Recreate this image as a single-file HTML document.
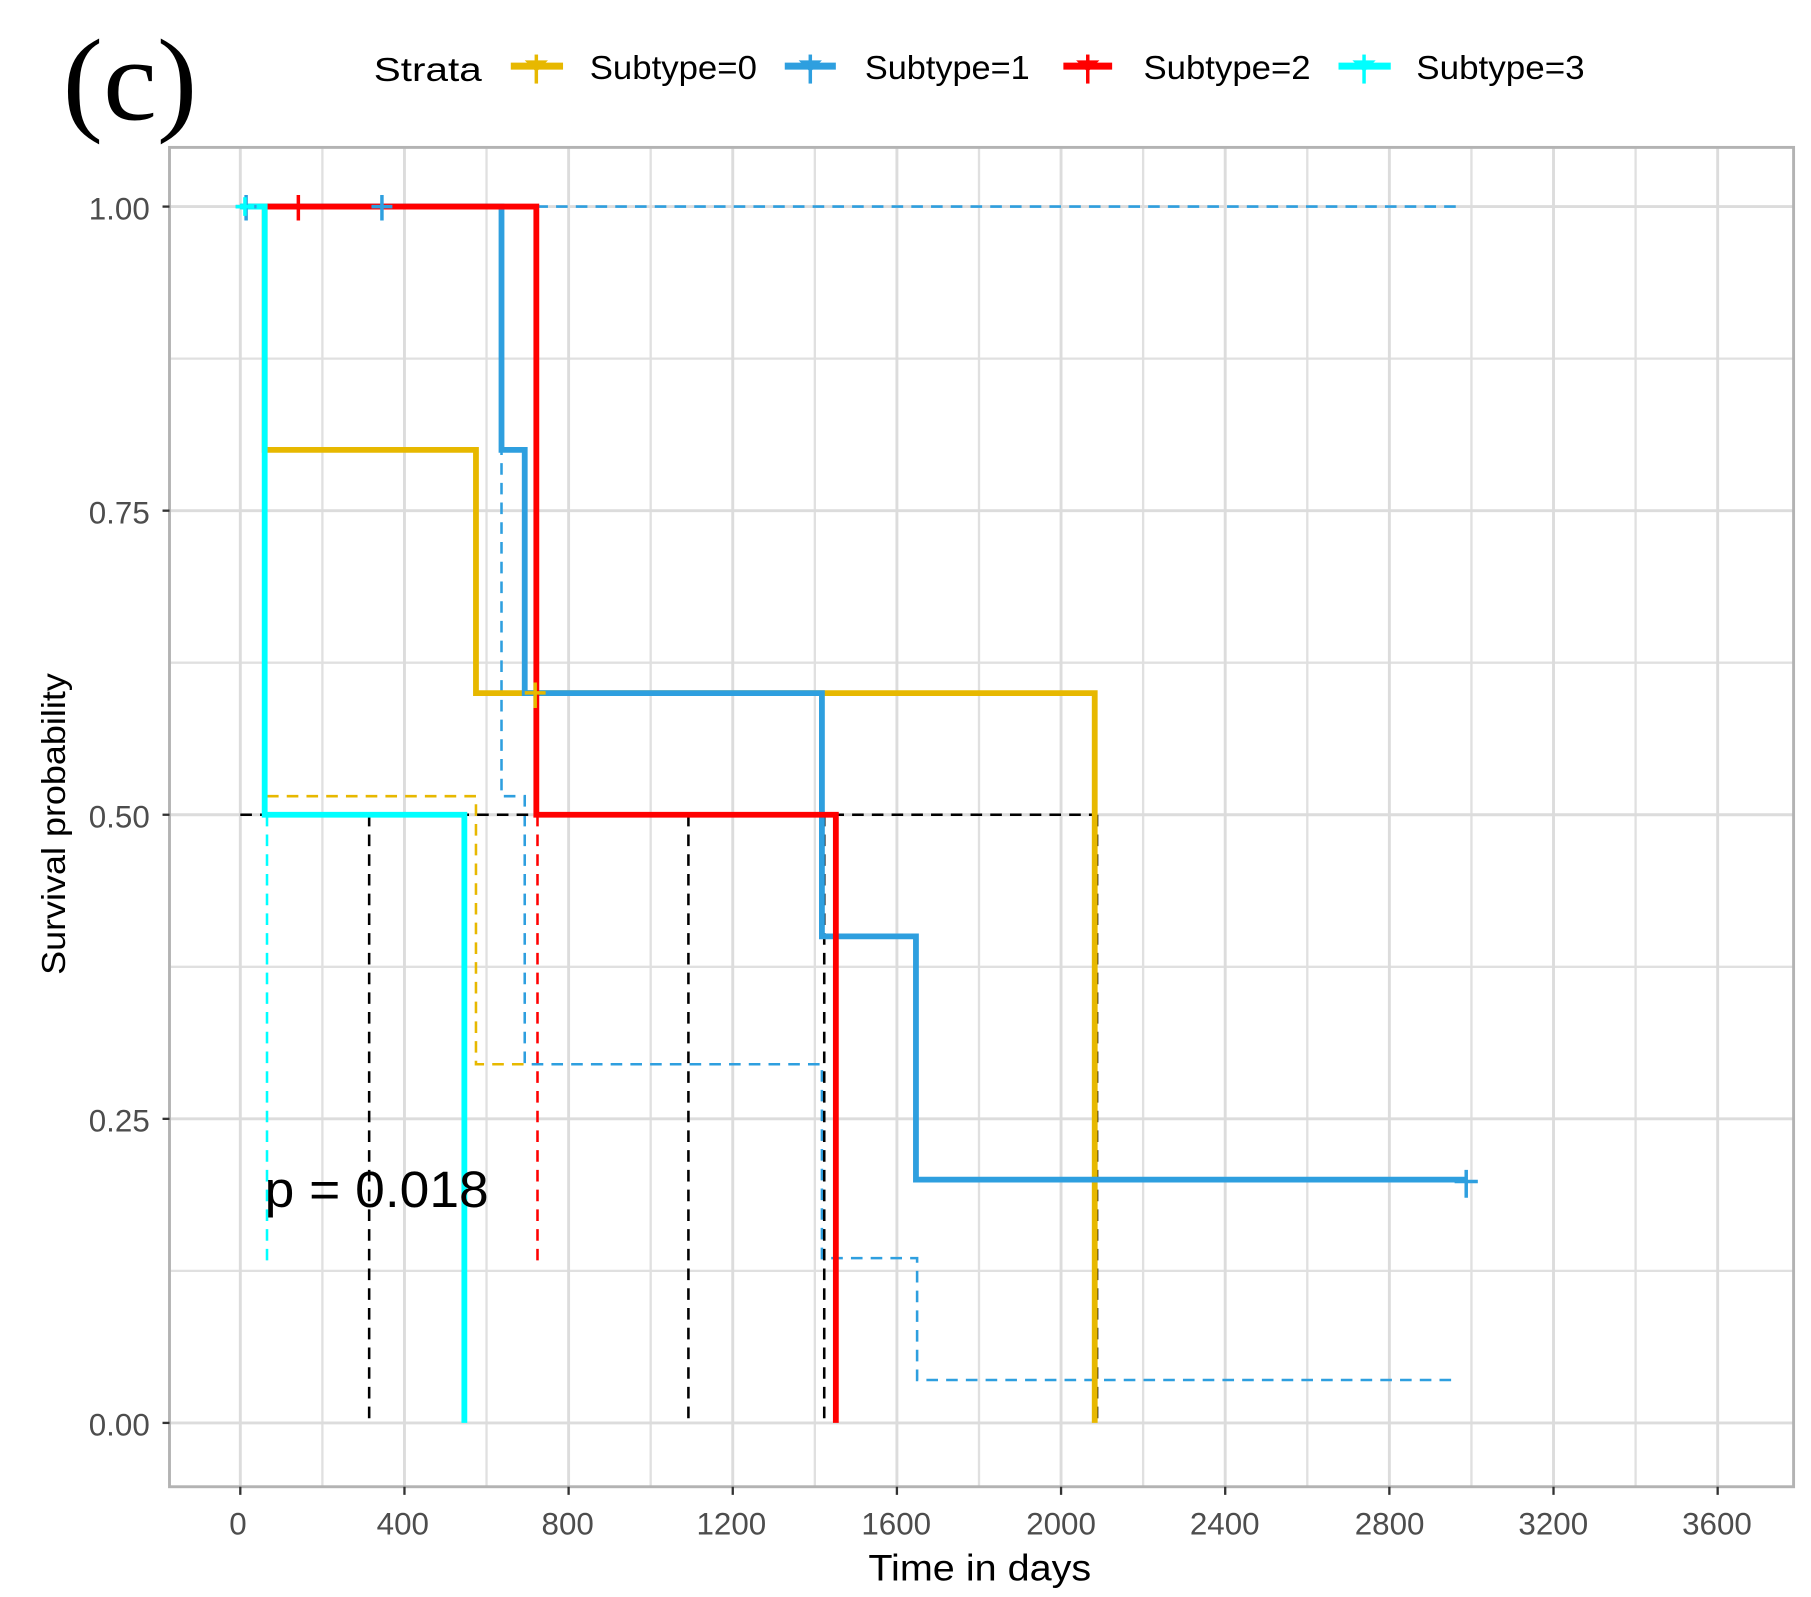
<!DOCTYPE html>
<html><head><style>html,body{margin:0;padding:0;background:#fff}svg{display:block}</style></head>
<body>
<svg width="1811" height="1597" viewBox="0 0 1560 1376" preserveAspectRatio="none" xmlns="http://www.w3.org/2000/svg" font-family="Liberation Sans, Arial, sans-serif">
<rect width="1560" height="1376" fill="#fff"/>
<text x="54" y="103" font-family="Liberation Serif, serif" font-size="100" fill="#000" textLength="116" lengthAdjust="spacingAndGlyphs">(c)</text>
<!-- legend -->
<g font-size="29" fill="#000">
<text x="322" y="70" textLength="93" lengthAdjust="spacingAndGlyphs">Strata</text>
<line x1="440" y1="57" x2="485" y2="57" stroke="#E7B800" stroke-width="6"/><path d="M452,52 H472 L462,62 Z" fill="#E7B800"/><line x1="462" y1="47" x2="462" y2="72" stroke="#E7B800" stroke-width="3"/>
<text x="508" y="68" textLength="144" lengthAdjust="spacingAndGlyphs">Subtype=0</text>
<line x1="676" y1="57" x2="720" y2="57" stroke="#2E9FDF" stroke-width="6"/><path d="M688,52 H708 L698,62 Z" fill="#2E9FDF"/><line x1="698" y1="47" x2="698" y2="72" stroke="#2E9FDF" stroke-width="3"/>
<text x="745" y="68" textLength="142" lengthAdjust="spacingAndGlyphs">Subtype=1</text>
<line x1="916" y1="57" x2="958" y2="57" stroke="#FF0000" stroke-width="6"/><path d="M927,52 H947 L937,62 Z" fill="#FF0000"/><line x1="937" y1="47" x2="937" y2="72" stroke="#FF0000" stroke-width="3"/>
<text x="985" y="68" textLength="144" lengthAdjust="spacingAndGlyphs">Subtype=2</text>
<line x1="1153" y1="57" x2="1198" y2="57" stroke="#00FFFF" stroke-width="6"/><path d="M1165,52 H1185 L1175,62 Z" fill="#00FFFF"/><line x1="1175" y1="47" x2="1175" y2="72" stroke="#00FFFF" stroke-width="3"/>
<text x="1220" y="68" textLength="145" lengthAdjust="spacingAndGlyphs">Subtype=3</text>
</g>
<!-- grid -->
<g stroke="#E0E0E0" stroke-width="2">
<line x1="277.7" y1="127" x2="277.7" y2="1281"/><line x1="419.1" y1="127" x2="419.1" y2="1281"/><line x1="560.5" y1="127" x2="560.5" y2="1281"/><line x1="701.9" y1="127" x2="701.9" y2="1281"/><line x1="843.3" y1="127" x2="843.3" y2="1281"/><line x1="984.7" y1="127" x2="984.7" y2="1281"/><line x1="1126.1" y1="127" x2="1126.1" y2="1281"/><line x1="1267.5" y1="127" x2="1267.5" y2="1281"/><line x1="1408.9" y1="127" x2="1408.9" y2="1281"/>
<line x1="146" y1="309" x2="1545" y2="309"/><line x1="146" y1="571" x2="1545" y2="571"/><line x1="146" y1="833" x2="1545" y2="833"/><line x1="146" y1="1095" x2="1545" y2="1095"/>
</g>
<g stroke="#DCDCDC" stroke-width="2.5">
<line x1="207" y1="127" x2="207" y2="1281"/><line x1="348.4" y1="127" x2="348.4" y2="1281"/><line x1="489.8" y1="127" x2="489.8" y2="1281"/><line x1="631.2" y1="127" x2="631.2" y2="1281"/><line x1="772.6" y1="127" x2="772.6" y2="1281"/><line x1="914" y1="127" x2="914" y2="1281"/><line x1="1055.4" y1="127" x2="1055.4" y2="1281"/><line x1="1196.8" y1="127" x2="1196.8" y2="1281"/><line x1="1338.2" y1="127" x2="1338.2" y2="1281"/><line x1="1479.6" y1="127" x2="1479.6" y2="1281"/>
<line x1="146" y1="178" x2="1545" y2="178"/><line x1="146" y1="440" x2="1545" y2="440"/><line x1="146" y1="702" x2="1545" y2="702"/><line x1="146" y1="964" x2="1545" y2="964"/><line x1="146" y1="1226" x2="1545" y2="1226"/>
</g>
<rect x="146" y="127" width="1399" height="1154" fill="none" stroke="#B3B3B3" stroke-width="2.5"/>
<!-- dashed CI -->
<g fill="none" stroke-width="2.2" stroke-dasharray="10,7">
<path d="M462,178 H1255" stroke="#2E9FDF"/>
<path d="M432,178 V686 H452 V917 H708 V1084 H790 V1189 H1255" stroke="#2E9FDF"/>
<path d="M230,686 H410 V917 H452" stroke="#E7B800"/>
<path d="M230,702 V1090" stroke="#00FFFF"/>
<path d="M463,702 V1092" stroke="#FF0000"/>
<path d="M207,702 H943" stroke="#000"/>
<path d="M318,702 V1226 M593,702 V1226 M710,702 V1226 M945,702 V1226" stroke="#000"/>
</g>
<!-- curves -->
<g fill="none" stroke-width="5">
<path d="M207,178 H228 V387.6 H410 V597.2 H943 V1226" stroke="#E7B800"/>
<path d="M207,178 H432 V387.6 H452 V597.2 H708 V806.8 H789 V1016.4 H1262" stroke="#2E9FDF"/>
<path d="M230,178 H462 V702 H720 V1226" stroke="#FF0000"/>
<path d="M207,178 H228 V702 H400 V1226" stroke="#00FFFF"/>
</g>
<!-- censors -->
<g stroke-width="3">
<path d="M452,597 H470 M461,588 V610" stroke="#E7B800"/>
<path d="M248,178 H266 M257,168 V190" stroke="#FF0000"/>
<path d="M320,178 H338 M329,168 V190 M203,178 H221 M212,168 V190 M1253,1018 H1273 M1263,1008 V1032" stroke="#2E9FDF"/>
<path d="M203,178 H219 M211,170 V186" stroke="#00FFFF"/>
</g>
<text x="228" y="1040" font-size="44" fill="#000" textLength="193" lengthAdjust="spacingAndGlyphs">p = 0.018</text>
<!-- axes ticks -->
<g stroke="#333" stroke-width="2">
<line x1="140" y1="178" x2="146" y2="178"/><line x1="140" y1="440" x2="146" y2="440"/><line x1="140" y1="702" x2="146" y2="702"/><line x1="140" y1="964" x2="146" y2="964"/><line x1="140" y1="1226" x2="146" y2="1226"/>
<line x1="207" y1="1281" x2="207" y2="1288"/><line x1="348.4" y1="1281" x2="348.4" y2="1288"/><line x1="489.8" y1="1281" x2="489.8" y2="1288"/><line x1="631.2" y1="1281" x2="631.2" y2="1288"/><line x1="772.6" y1="1281" x2="772.6" y2="1288"/><line x1="914" y1="1281" x2="914" y2="1288"/><line x1="1055.4" y1="1281" x2="1055.4" y2="1288"/><line x1="1196.8" y1="1281" x2="1196.8" y2="1288"/><line x1="1338.2" y1="1281" x2="1338.2" y2="1288"/><line x1="1479.6" y1="1281" x2="1479.6" y2="1288"/>
</g>
<g font-size="27" fill="#4D4D4D" text-anchor="end">
<text x="129" y="189">1.00</text><text x="129" y="451">0.75</text><text x="129" y="713">0.50</text><text x="129" y="975">0.25</text><text x="129" y="1237">0.00</text>
</g>
<g font-size="27" fill="#4D4D4D" text-anchor="middle">
<text x="205" y="1322">0</text><text x="347" y="1322">400</text><text x="489" y="1322">800</text><text x="630" y="1322">1200</text><text x="772" y="1322">1600</text><text x="914" y="1322">2000</text><text x="1055" y="1322">2400</text><text x="1197" y="1322">2800</text><text x="1338" y="1322">3200</text><text x="1479" y="1322">3600</text>
</g>
<text x="844" y="1362" font-size="32" text-anchor="middle" fill="#000" textLength="192" lengthAdjust="spacingAndGlyphs">Time in days</text>
<text transform="translate(56,710) rotate(-90)" font-size="29" text-anchor="middle" fill="#000" textLength="260" lengthAdjust="spacingAndGlyphs">Survival probability</text>
</svg>
</body></html>
